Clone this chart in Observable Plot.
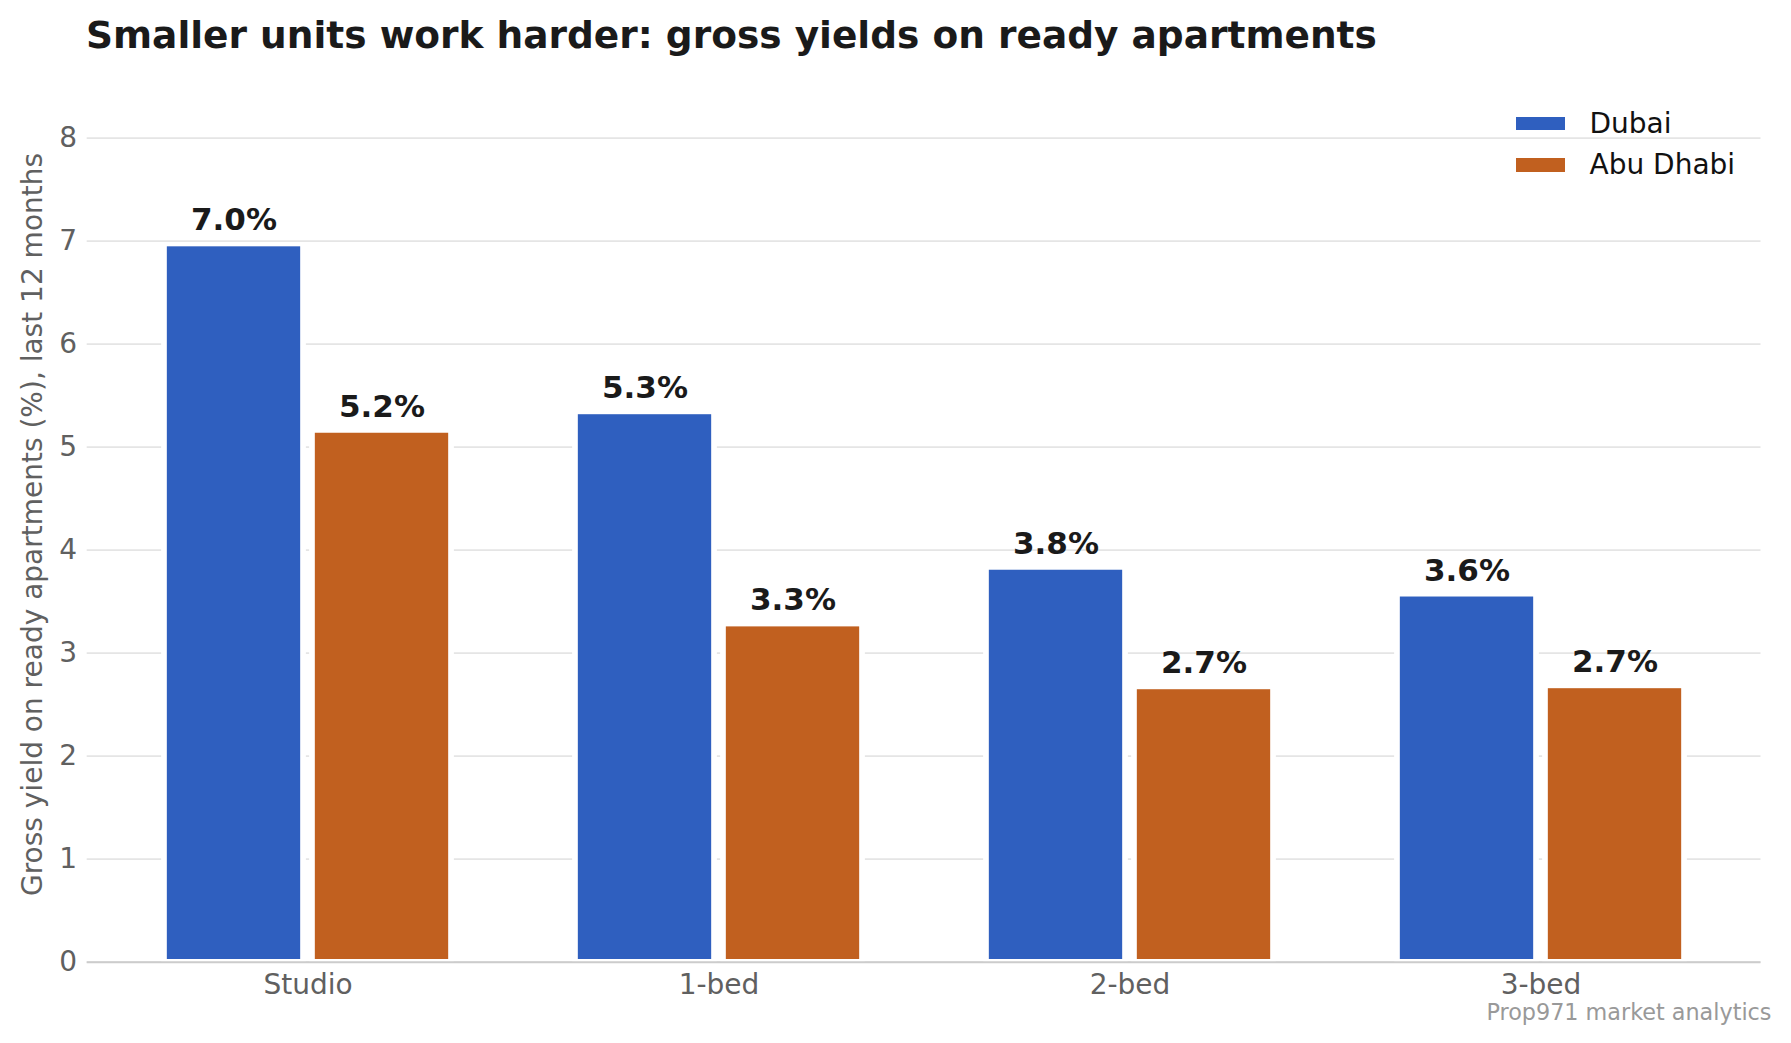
<!DOCTYPE html>
<html>
<head>
<meta charset="utf-8">
<script src="https://cdn.jsdelivr.net/npm/d3@7"></script>
<script src="https://cdn.jsdelivr.net/npm/@observablehq/plot@0.6"></script>
<style>
  html, body { margin: 0; padding: 0; background: #ffffff; }
  body { width: 1791px; height: 1043px; position: relative; overflow: hidden; font-family: "DejaVu Sans", sans-serif; }
  #chart { position: absolute; left: 0; top: 0; }
  #title { position: absolute; left: 86px; top: 16.6px; font-size: 37.5px; line-height: 37.5px; font-weight: bold; color: #1a1a1a; white-space: nowrap; }
  #caption { position: absolute; right: 19.5px; top: 1001.2px; font-size: 22.3px; line-height: 22.3px; color: #999999; white-space: nowrap; }
  #legend { position: absolute; left: 0; top: 0; }
  .lg-sw { position: absolute; width: 49px; height: 13.5px; }
  .lg-tx { position: absolute; font-size: 28px; line-height: 28px; color: #111111; white-space: nowrap; }
</style>
</head>
<body>
<div id="chart"></div>
<div id="title">Smaller units work harder: gross yields on ready apartments</div>
<div id="legend"></div>
<div id="caption">Prop971 market analytics</div>
<script>
// ---- data ----
const categories = ["Studio", "1-bed", "2-bed", "3-bed"];
const cities = ["Dubai", "Abu Dhabi"];
const dubaiValues = [6.96, 5.33, 3.82, 3.56];
const abuDhabiValues = [5.15, 3.27, 2.66, 2.67];
const dubaiLabels = ["7.0%", "5.3%", "3.8%", "3.6%"];
const abuDhabiLabels = ["5.2%", "3.3%", "2.7%", "2.7%"];
const yTicks = [0, 1, 2, 3, 4, 5, 6, 7, 8];
const yLabel = "Gross yield on ready apartments (%), last 12 months";
const cityColors = ["#2F5FBF", "#C1601F"];

// table built from the arrays
const rows = [];
categories.forEach((c, i) => {
  rows.push({cat: c, city: cities[0], value: dubaiValues[i], label: dubaiLabels[i]});
  rows.push({cat: c, city: cities[1], value: abuDhabiValues[i], label: abuDhabiLabels[i]});
});
const dubaiRows = rows.filter(d => d.city === cities[0]);
const abuRows = rows.filter(d => d.city === cities[1]);

// ---- layout ----
const W = 1791, H = 1043;
const ML = 86.7, MR = 30.5, MT = 86.2, MB = 81.3;
const padOuter = 0.035;
const step = (W - ML - MR) / (categories.length + 2 * padOuter);
const barW = 133.6, gap = 14.4, halo = 5.7;
const outerInset = (step - 2 * barW - gap) / 2;
const innerInset = step - outerInset - barW;
const off = (barW + gap) / 2;

const color = {domain: cities, range: cityColors};

function bars(data, insetL, insetR) {
  return [
    Plot.barY(data, {x: "cat", y: "value", fill: "white",
      insetLeft: insetL - halo, insetRight: insetR - halo}),
    Plot.barY(data, {x: "cat", y: "value", fill: "city",
      insetLeft: insetL, insetRight: insetR, insetTop: 1.5, insetBottom: 2.7})
  ];
}

const chart = Plot.plot({
  width: W, height: H,
  marginLeft: ML, marginRight: MR, marginTop: MT, marginBottom: MB,
  style: {fontFamily: "'DejaVu Sans', sans-serif", background: "transparent", overflow: "visible"},
  x: {domain: categories, paddingInner: 0, paddingOuter: padOuter, align: 0.5, axis: null},
  y: {domain: [0, 8.5], axis: null},
  color: color,
  marks: [
    Plot.ruleY(yTicks, {stroke: "#e5e5e5", strokeWidth: 1.7}),
    ...bars(dubaiRows, outerInset, innerInset),
    ...bars(abuRows, innerInset, outerInset),
    Plot.ruleY([0], {stroke: "#cccccc", strokeWidth: 2}),
    Plot.axisX({tickSize: 0, tickPadding: 11.7, fontSize: 28, fill: "#606060", label: null}),
    Plot.axisY({ticks: yTicks, tickSize: 0, tickPadding: 10, fontSize: 28, fill: "#606060",
      label: yLabel, labelAnchor: "center", labelArrow: "none", labelOffset: 64.7}),
    Plot.text(dubaiRows, {x: "cat", y: "value", text: "label", dx: -off, dy: -15,
      lineAnchor: "bottom", fontSize: 31, fontWeight: "bold", fill: "#1a1a1a"}),
    Plot.text(abuRows, {x: "cat", y: "value", text: "label", dx: off, dy: -15,
      lineAnchor: "bottom", fontSize: 31, fontWeight: "bold", fill: "#1a1a1a"})
  ]
});
document.getElementById("chart").appendChild(chart);

// ---- legend ----
const legend = document.getElementById("legend");
cities.forEach((c, i) => {
  const rowTop = 116.7 + i * 41.6;
  const sw = document.createElement("div");
  sw.className = "lg-sw";
  sw.style.left = "1515.7px";
  sw.style.top = rowTop + "px";
  sw.style.background = cityColors[i];
  legend.appendChild(sw);
  const tx = document.createElement("div");
  tx.className = "lg-tx";
  tx.style.left = "1589.5px";
  tx.style.top = (rowTop - 7.1) + "px";
  tx.textContent = c;
  legend.appendChild(tx);
});
</script>
</body>
</html>
